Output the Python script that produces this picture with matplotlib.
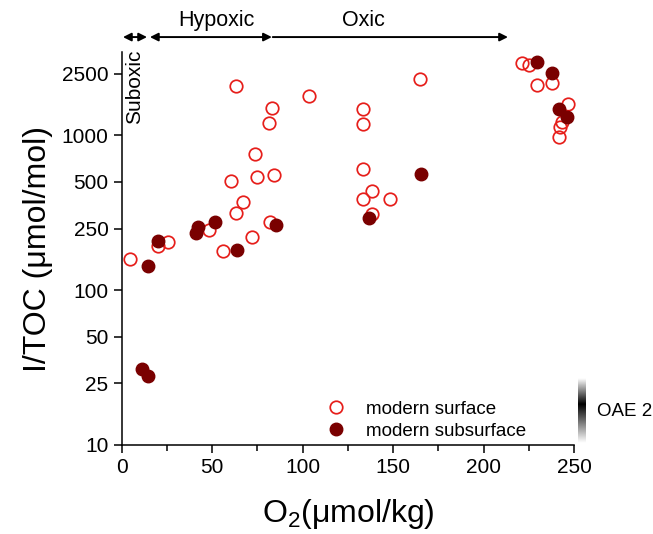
import numpy as np
import matplotlib
matplotlib.use('Agg')
import matplotlib.pyplot as plt
from matplotlib.ticker import MultipleLocator, NullLocator

plt.rcParams['font.family'] = ['Liberation Sans', 'DejaVu Sans']
plt.rcParams['mathtext.fontset'] = 'custom'
plt.rcParams['mathtext.rm'] = 'Liberation Sans'
plt.rcParams['mathtext.default'] = 'regular'

# modern surface (open circles)
surf_o2 = [4.6, 20.2, 25.4, 48.2, 56.1, 60.4, 63.0, 63.0, 66.8, 72.2, 73.6, 74.9,
           81.5, 81.9, 82.9, 84.3, 103.6, 133.5, 133.5, 133.5, 133.5, 138.1, 138.1,
           148.4, 165.0, 221.0, 225.2, 229.6, 237.6, 246.7, 243.1, 242.3, 241.8]
surf_itoc = [158, 193, 204, 243, 180, 507, 313, 2070, 372, 221, 754, 538,
             1200, 274, 1510, 555, 1787, 1479, 1189, 604, 388, 437, 312,
             388, 2323, 2925, 2832, 2104, 2172, 1604, 1219, 1130, 975]

# modern subsurface (filled circles)
sub_o2 = [11.4, 14.7, 14.7, 20.2, 41.0, 42.3, 51.5, 63.5, 85.1, 136.7, 165.2,
          229.8, 238.1, 241.8, 246.4]
sub_itoc = [31, 28, 144, 208, 234, 254, 276, 183, 264, 291, 566,
            2972, 2512, 1486, 1312]

yticks = [10, 25, 50, 100, 250, 500, 1000, 2500]

# redox zones along the top (O2 limits)
zones = ['Suboxic', 'Hypoxic', 'Oxic']
zone_lims = [(0.7, 14.0), (15.6, 83.0), (83.5, 213.5)]

red = '#e61e1a'
dred = '#7a0000'

fig = plt.figure(figsize=(6.53, 5.34), dpi=100)
ax = fig.add_axes([121.7/653, 89/534, 452.3/653, 393/534])

ax.plot(surf_o2, surf_itoc, 'o', ls='none', ms=9, mfc='none', mec=red, mew=1.25,
        label='modern surface', clip_on=False)
ax.plot(sub_o2, sub_itoc, 'o', ls='none', ms=9, mfc=dred, mec=dred, mew=1.0,
        label='modern subsurface', clip_on=False)

ax.set_yscale('log')
ax.set_ylim(10, 3450)
ax.set_xlim(0, 250)
ax.set_yticks(yticks)
ax.set_yticklabels([str(v) for v in yticks])
ax.yaxis.set_minor_locator(NullLocator())
ax.xaxis.set_major_locator(MultipleLocator(50))
ax.xaxis.set_minor_locator(MultipleLocator(25))
ax.tick_params(axis='both', which='major', labelsize=15, length=6, width=1.1, direction='out')
ax.tick_params(axis='x', which='minor', length=4, width=1.1)
for s in ['top', 'right']:
    ax.spines[s].set_visible(False)
for s in ['left', 'bottom']:
    ax.spines[s].set_linewidth(1.1)

ax.set_xlabel(r'O$_2$(μmol/kg)', fontsize=23, labelpad=14)
ax.set_ylabel('I/TOC (μmol/mol)', fontsize=23, labelpad=6)

# arrows for redox zones
trans = ax.get_xaxis_transform()
ya = 1.038
ax.annotate('', xy=(zone_lims[0][0], ya), xytext=(zone_lims[0][1], ya), xycoords=trans,
            arrowprops=dict(arrowstyle='<|-|>', color='black', lw=1.4, mutation_scale=12,
                            shrinkA=0, shrinkB=0), annotation_clip=False)
ax.annotate('', xy=(zone_lims[1][0], ya), xytext=(zone_lims[1][1], ya), xycoords=trans,
            arrowprops=dict(arrowstyle='<|-|>', color='black', lw=1.4, mutation_scale=12,
                            shrinkA=0, shrinkB=0), annotation_clip=False)
ax.annotate('', xy=(zone_lims[2][1], ya), xytext=(zone_lims[2][0], ya), xycoords=trans,
            arrowprops=dict(arrowstyle='-|>', color='black', lw=1.4, mutation_scale=12,
                            shrinkA=0, shrinkB=0), annotation_clip=False)
ax.text(52.5, 1.081, zones[1], transform=trans, ha='center', va='center', fontsize=15.5)
ax.text(133.5, 1.081, zones[2], transform=trans, ha='center', va='center', fontsize=15.5)
ax.text(7.3, 1.005, zones[0], transform=trans, ha='center', va='top', rotation=90, fontsize=15)

leg = ax.legend(loc='lower left', bbox_to_anchor=(0.42, -0.02), frameon=False, fontsize=13.5,
                handletextpad=1.0, labelspacing=0.25, handlelength=1.2, borderpad=0.2)

# OAE 2 gradient bar
gax = fig.add_axes([578/653, (534-443)/534, 8/653, 65/534])
prof = np.interp(np.linspace(0, 1, 100), [0, 0.4, 1], [1, 0, 1])
gax.imshow(prof[:, None], cmap='gray', aspect='auto', vmin=0, vmax=1)
gax.axis('off')
fig.text(597/653, (534-412)/534, 'OAE 2', fontsize=13.5, ha='left', va='center')

plt.savefig('out.png', dpi=100)
plt.close()
